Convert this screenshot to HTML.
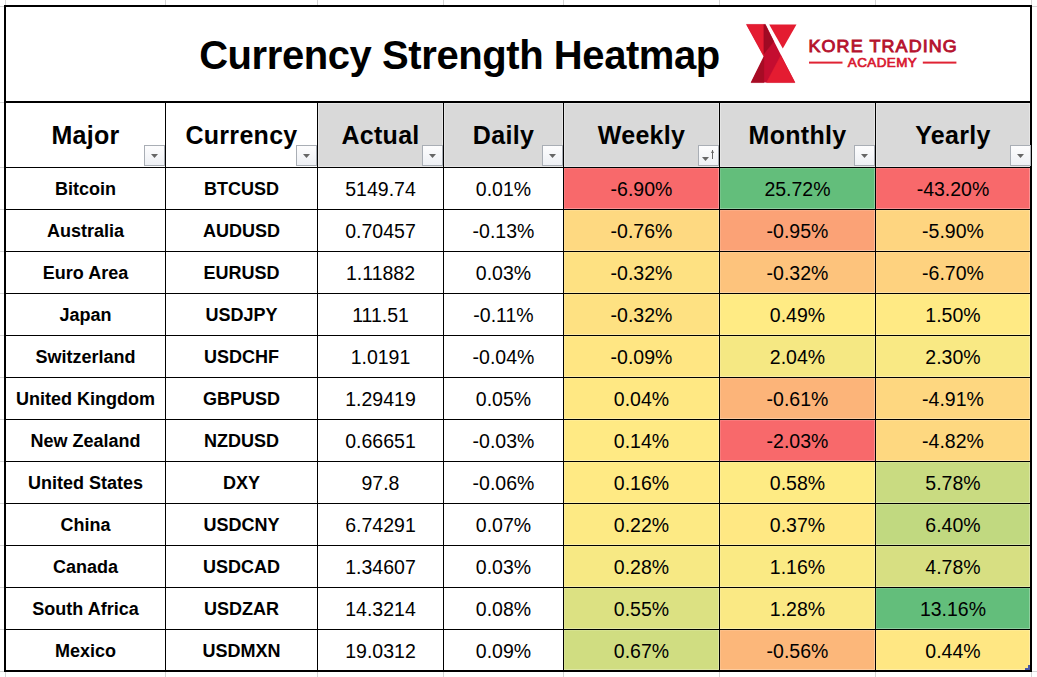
<!DOCTYPE html>
<html><head><meta charset="utf-8"><style>
*{margin:0;padding:0;box-sizing:border-box}
html,body{width:1037px;height:677px;overflow:hidden;background:#fff}
body{position:relative;font-family:"Liberation Sans", sans-serif;color:#000}
.a{position:absolute}
.g{position:absolute;background:#d4d4d4}
.k{position:absolute;background:#000}
.t{position:absolute;text-align:center;white-space:nowrap}
.b{font-weight:bold}
.dd{position:absolute;width:21px;height:21px;border:1px solid #a9aeb5;background:linear-gradient(#fdfdfe,#eef0f4)}
.dd i{position:absolute;left:6px;top:8px;width:7px;height:4px;background:#666;clip-path:polygon(0 0,100% 0,50% 100%)}
.dd.s i{left:3px;top:11px}
.dd b{position:absolute;left:13px;top:4px;width:1px;height:9px;background:#666}
.dd b:before{content:"";position:absolute;left:-1px;top:0;width:3px;height:3px;background:#666;clip-path:polygon(50% 0,100% 100%,0 100%)}
</style></head><body>

<div class="g" style="left:5px;top:0;width:1px;height:5px"></div>
<div class="g" style="left:5px;top:672px;width:1px;height:5px"></div>
<div class="g" style="left:165px;top:0;width:1px;height:5px"></div>
<div class="g" style="left:165px;top:672px;width:1px;height:5px"></div>
<div class="g" style="left:317px;top:0;width:1px;height:5px"></div>
<div class="g" style="left:317px;top:672px;width:1px;height:5px"></div>
<div class="g" style="left:443px;top:0;width:1px;height:5px"></div>
<div class="g" style="left:443px;top:672px;width:1px;height:5px"></div>
<div class="g" style="left:563px;top:0;width:1px;height:5px"></div>
<div class="g" style="left:563px;top:672px;width:1px;height:5px"></div>
<div class="g" style="left:719px;top:0;width:1px;height:5px"></div>
<div class="g" style="left:719px;top:672px;width:1px;height:5px"></div>
<div class="g" style="left:875px;top:0;width:1px;height:5px"></div>
<div class="g" style="left:875px;top:672px;width:1px;height:5px"></div>
<div class="g" style="left:1031px;top:0;width:1px;height:5px"></div>
<div class="g" style="left:1031px;top:672px;width:1px;height:5px"></div>
<div class="g" style="left:0;top:6px;width:4px;height:1px"></div>
<div class="g" style="left:1032px;top:6px;width:5px;height:1px"></div>
<div class="g" style="left:0;top:102px;width:4px;height:1px"></div>
<div class="g" style="left:0;top:167px;width:4px;height:1px"></div>
<div class="g" style="left:0;top:209px;width:4px;height:1px"></div>
<div class="g" style="left:0;top:251px;width:4px;height:1px"></div>
<div class="g" style="left:0;top:293px;width:4px;height:1px"></div>
<div class="g" style="left:0;top:335px;width:4px;height:1px"></div>
<div class="g" style="left:0;top:377px;width:4px;height:1px"></div>
<div class="g" style="left:0;top:419px;width:4px;height:1px"></div>
<div class="g" style="left:0;top:461px;width:4px;height:1px"></div>
<div class="g" style="left:0;top:503px;width:4px;height:1px"></div>
<div class="g" style="left:0;top:545px;width:4px;height:1px"></div>
<div class="g" style="left:0;top:587px;width:4px;height:1px"></div>
<div class="g" style="left:0;top:629px;width:4px;height:1px"></div>
<div class="g" style="left:0;top:671px;width:4px;height:1px"></div>
<div class="g" style="left:1032px;top:671px;width:5px;height:1px"></div>
<div class="a" style="left:318px;top:103px;width:125px;height:64px;background:#e5e5e5"></div>
<div class="a" style="left:319px;top:104px;width:123px;height:62px;background:#d9d9d9"></div>
<div class="a" style="left:444px;top:103px;width:119px;height:64px;background:#e5e5e5"></div>
<div class="a" style="left:445px;top:104px;width:117px;height:62px;background:#d9d9d9"></div>
<div class="a" style="left:564px;top:103px;width:155px;height:64px;background:#e5e5e5"></div>
<div class="a" style="left:565px;top:104px;width:153px;height:62px;background:#d9d9d9"></div>
<div class="a" style="left:720px;top:103px;width:155px;height:64px;background:#e5e5e5"></div>
<div class="a" style="left:721px;top:104px;width:153px;height:62px;background:#d9d9d9"></div>
<div class="a" style="left:876px;top:103px;width:154px;height:64px;background:#e5e5e5"></div>
<div class="a" style="left:877px;top:104px;width:152px;height:62px;background:#d9d9d9"></div>
<div class="a" style="left:564px;top:168px;width:155px;height:41px;background:#F8696B;box-shadow:inset -1px -1px 0 rgba(255,255,255,.28),inset 1px 1px 0 rgba(255,255,255,.12)"></div>
<div class="a" style="left:720px;top:168px;width:155px;height:41px;background:#63BE7B;box-shadow:inset -1px -1px 0 rgba(255,255,255,.28),inset 1px 1px 0 rgba(255,255,255,.12)"></div>
<div class="a" style="left:876px;top:168px;width:154px;height:41px;background:#F8696B;box-shadow:inset -1px -1px 0 rgba(255,255,255,.28),inset 1px 1px 0 rgba(255,255,255,.12)"></div>
<div class="a" style="left:564px;top:210px;width:155px;height:41px;background:#FED981;box-shadow:inset -1px -1px 0 rgba(255,255,255,.28),inset 1px 1px 0 rgba(255,255,255,.12)"></div>
<div class="a" style="left:720px;top:210px;width:155px;height:41px;background:#FBA276;box-shadow:inset -1px -1px 0 rgba(255,255,255,.28),inset 1px 1px 0 rgba(255,255,255,.12)"></div>
<div class="a" style="left:876px;top:210px;width:154px;height:41px;background:#FED580;box-shadow:inset -1px -1px 0 rgba(255,255,255,.28),inset 1px 1px 0 rgba(255,255,255,.12)"></div>
<div class="a" style="left:564px;top:252px;width:155px;height:41px;background:#FEE182;box-shadow:inset -1px -1px 0 rgba(255,255,255,.28),inset 1px 1px 0 rgba(255,255,255,.12)"></div>
<div class="a" style="left:720px;top:252px;width:155px;height:41px;background:#FDC37C;box-shadow:inset -1px -1px 0 rgba(255,255,255,.28),inset 1px 1px 0 rgba(255,255,255,.12)"></div>
<div class="a" style="left:876px;top:252px;width:154px;height:41px;background:#FED27F;box-shadow:inset -1px -1px 0 rgba(255,255,255,.28),inset 1px 1px 0 rgba(255,255,255,.12)"></div>
<div class="a" style="left:564px;top:294px;width:155px;height:41px;background:#FEE182;box-shadow:inset -1px -1px 0 rgba(255,255,255,.28),inset 1px 1px 0 rgba(255,255,255,.12)"></div>
<div class="a" style="left:720px;top:294px;width:155px;height:41px;background:#FFEB84;box-shadow:inset -1px -1px 0 rgba(255,255,255,.28),inset 1px 1px 0 rgba(255,255,255,.12)"></div>
<div class="a" style="left:876px;top:294px;width:154px;height:41px;background:#FFEA84;box-shadow:inset -1px -1px 0 rgba(255,255,255,.28),inset 1px 1px 0 rgba(255,255,255,.12)"></div>
<div class="a" style="left:564px;top:336px;width:155px;height:41px;background:#FFE683;box-shadow:inset -1px -1px 0 rgba(255,255,255,.28),inset 1px 1px 0 rgba(255,255,255,.12)"></div>
<div class="a" style="left:720px;top:336px;width:155px;height:41px;background:#F5E883;box-shadow:inset -1px -1px 0 rgba(255,255,255,.28),inset 1px 1px 0 rgba(255,255,255,.12)"></div>
<div class="a" style="left:876px;top:336px;width:154px;height:41px;background:#F9E984;box-shadow:inset -1px -1px 0 rgba(255,255,255,.28),inset 1px 1px 0 rgba(255,255,255,.12)"></div>
<div class="a" style="left:564px;top:378px;width:155px;height:41px;background:#FFE883;box-shadow:inset -1px -1px 0 rgba(255,255,255,.28),inset 1px 1px 0 rgba(255,255,255,.12)"></div>
<div class="a" style="left:720px;top:378px;width:155px;height:41px;background:#FCB479;box-shadow:inset -1px -1px 0 rgba(255,255,255,.28),inset 1px 1px 0 rgba(255,255,255,.12)"></div>
<div class="a" style="left:876px;top:378px;width:154px;height:41px;background:#FED780;box-shadow:inset -1px -1px 0 rgba(255,255,255,.28),inset 1px 1px 0 rgba(255,255,255,.12)"></div>
<div class="a" style="left:564px;top:420px;width:155px;height:41px;background:#FFEA84;box-shadow:inset -1px -1px 0 rgba(255,255,255,.28),inset 1px 1px 0 rgba(255,255,255,.12)"></div>
<div class="a" style="left:720px;top:420px;width:155px;height:41px;background:#F8696B;box-shadow:inset -1px -1px 0 rgba(255,255,255,.28),inset 1px 1px 0 rgba(255,255,255,.12)"></div>
<div class="a" style="left:876px;top:420px;width:154px;height:41px;background:#FED880;box-shadow:inset -1px -1px 0 rgba(255,255,255,.28),inset 1px 1px 0 rgba(255,255,255,.12)"></div>
<div class="a" style="left:564px;top:462px;width:155px;height:41px;background:#FFEA84;box-shadow:inset -1px -1px 0 rgba(255,255,255,.28),inset 1px 1px 0 rgba(255,255,255,.12)"></div>
<div class="a" style="left:720px;top:462px;width:155px;height:41px;background:#FEEB84;box-shadow:inset -1px -1px 0 rgba(255,255,255,.28),inset 1px 1px 0 rgba(255,255,255,.12)"></div>
<div class="a" style="left:876px;top:462px;width:154px;height:41px;background:#C9DB81;box-shadow:inset -1px -1px 0 rgba(255,255,255,.28),inset 1px 1px 0 rgba(255,255,255,.12)"></div>
<div class="a" style="left:564px;top:504px;width:155px;height:41px;background:#FDEA84;box-shadow:inset -1px -1px 0 rgba(255,255,255,.28),inset 1px 1px 0 rgba(255,255,255,.12)"></div>
<div class="a" style="left:720px;top:504px;width:155px;height:41px;background:#FFE883;box-shadow:inset -1px -1px 0 rgba(255,255,255,.28),inset 1px 1px 0 rgba(255,255,255,.12)"></div>
<div class="a" style="left:876px;top:504px;width:154px;height:41px;background:#C1D980;box-shadow:inset -1px -1px 0 rgba(255,255,255,.28),inset 1px 1px 0 rgba(255,255,255,.12)"></div>
<div class="a" style="left:564px;top:546px;width:155px;height:41px;background:#F7E984;box-shadow:inset -1px -1px 0 rgba(255,255,255,.28),inset 1px 1px 0 rgba(255,255,255,.12)"></div>
<div class="a" style="left:720px;top:546px;width:155px;height:41px;background:#FAEA84;box-shadow:inset -1px -1px 0 rgba(255,255,255,.28),inset 1px 1px 0 rgba(255,255,255,.12)"></div>
<div class="a" style="left:876px;top:546px;width:154px;height:41px;background:#D7DF82;box-shadow:inset -1px -1px 0 rgba(255,255,255,.28),inset 1px 1px 0 rgba(255,255,255,.12)"></div>
<div class="a" style="left:564px;top:588px;width:155px;height:41px;background:#DCE182;box-shadow:inset -1px -1px 0 rgba(255,255,255,.28),inset 1px 1px 0 rgba(255,255,255,.12)"></div>
<div class="a" style="left:720px;top:588px;width:155px;height:41px;background:#FAE984;box-shadow:inset -1px -1px 0 rgba(255,255,255,.28),inset 1px 1px 0 rgba(255,255,255,.12)"></div>
<div class="a" style="left:876px;top:588px;width:154px;height:41px;background:#63BE7B;box-shadow:inset -1px -1px 0 rgba(255,255,255,.28),inset 1px 1px 0 rgba(255,255,255,.12)"></div>
<div class="a" style="left:564px;top:630px;width:155px;height:40px;background:#D0DD81;box-shadow:inset -1px -1px 0 rgba(255,255,255,.28),inset 1px 1px 0 rgba(255,255,255,.12)"></div>
<div class="a" style="left:720px;top:630px;width:155px;height:40px;background:#FCB77A;box-shadow:inset -1px -1px 0 rgba(255,255,255,.28),inset 1px 1px 0 rgba(255,255,255,.12)"></div>
<div class="a" style="left:876px;top:630px;width:154px;height:40px;background:#FFE783;box-shadow:inset -1px -1px 0 rgba(255,255,255,.28),inset 1px 1px 0 rgba(255,255,255,.12)"></div>
<div class="k" style="left:4px;top:5px;width:1028px;height:2px"></div>
<div class="k" style="left:4px;top:101px;width:1028px;height:2px"></div>
<div class="k" style="left:4px;top:670px;width:1028px;height:2px"></div>
<div class="k" style="left:4px;top:5px;width:2px;height:667px"></div>
<div class="k" style="left:1030px;top:5px;width:2px;height:667px"></div>
<div class="k" style="left:165px;top:101px;width:1px;height:570px"></div>
<div class="k" style="left:317px;top:101px;width:1px;height:570px"></div>
<div class="k" style="left:443px;top:101px;width:1px;height:570px"></div>
<div class="k" style="left:563px;top:101px;width:1px;height:570px"></div>
<div class="k" style="left:719px;top:101px;width:1px;height:570px"></div>
<div class="k" style="left:875px;top:101px;width:1px;height:570px"></div>
<div class="k" style="left:4px;top:167px;width:1028px;height:1px"></div>
<div class="k" style="left:4px;top:209px;width:1028px;height:1px"></div>
<div class="k" style="left:4px;top:251px;width:1028px;height:1px"></div>
<div class="k" style="left:4px;top:293px;width:1028px;height:1px"></div>
<div class="k" style="left:4px;top:335px;width:1028px;height:1px"></div>
<div class="k" style="left:4px;top:377px;width:1028px;height:1px"></div>
<div class="k" style="left:4px;top:419px;width:1028px;height:1px"></div>
<div class="k" style="left:4px;top:461px;width:1028px;height:1px"></div>
<div class="k" style="left:4px;top:503px;width:1028px;height:1px"></div>
<div class="k" style="left:4px;top:545px;width:1028px;height:1px"></div>
<div class="k" style="left:4px;top:587px;width:1028px;height:1px"></div>
<div class="k" style="left:4px;top:629px;width:1028px;height:1px"></div>
<div class="t b" style="left:149.5px;top:25px;width:620px;height:60px;line-height:60px;font-size:40px;letter-spacing:-0.42px">Currency Strength Heatmap</div>
<svg class="a" style="left:740px;top:18px" width="225" height="72" viewBox="740 18 225 72">
<polygon points="746.4,24.4 765.4,24.4 795,82.6 751,82.6 763.9,56.5" fill="#C40D30"/>
<polygon points="746.4,24.4 763.9,24.4 763.9,56.5" fill="#E41C31" stroke="#E41C31" stroke-width="0.4"/>
<polygon points="763.9,56.5 751,82.6 763.9,82.6" fill="#A60C25" stroke="#A60C25" stroke-width="0.4"/>
<polygon points="763.9,24.4 765.4,24.4 773.7,41.5 763.9,53.8" fill="#A00A23" stroke="#A00A23" stroke-width="0.4"/>
<polygon points="780.8,55.5 795,82.6 766.5,82.6" fill="#E41C31" stroke="#E41C31" stroke-width="0.4"/>
<polygon points="769.2,24.4 796.5,24.4 782.8,48.6" fill="#E41C31"/>
<text transform="translate(808.5 52.4) scale(1.12 1)" x="0" y="0" font-family="Liberation Sans, sans-serif" font-weight="normal" font-size="16" fill="#B5122E" stroke="#B5122E" stroke-width="0.85" textLength="132.4" lengthAdjust="spacing">KORE TRADING</text>
<text transform="translate(847.8 67) scale(1.12 1)" x="0" y="0" font-family="Liberation Sans, sans-serif" font-weight="normal" font-size="12" fill="#D9182F" stroke="#D9182F" stroke-width="0.65" textLength="61.6" lengthAdjust="spacing">ACADEMY</text>
<rect x="809" y="61.6" width="33.5" height="2" fill="#E02334"/>
<rect x="922.8" y="61.6" width="33.6" height="2" fill="#E02334"/>
</svg>
<div class="t b" style="left:6px;top:103px;width:159px;height:64px;line-height:64px;font-size:25px;letter-spacing:0.3px">Major</div>
<div class="dd" style="left:144px;top:145px"><i></i></div>
<div class="t b" style="left:166px;top:103px;width:151px;height:64px;line-height:64px;font-size:25px;letter-spacing:0.3px">Currency</div>
<div class="dd" style="left:296px;top:145px"><i></i></div>
<div class="t b" style="left:318px;top:103px;width:125px;height:64px;line-height:64px;font-size:25px;letter-spacing:0.3px">Actual</div>
<div class="dd" style="left:422px;top:145px"><i></i></div>
<div class="t b" style="left:444px;top:103px;width:119px;height:64px;line-height:64px;font-size:25px;letter-spacing:0.3px">Daily</div>
<div class="dd" style="left:542px;top:145px"><i></i></div>
<div class="t b" style="left:564px;top:103px;width:155px;height:64px;line-height:64px;font-size:25px;letter-spacing:0.3px">Weekly</div>
<div class="dd s" style="left:698px;top:145px"><i></i><b></b></div>
<div class="t b" style="left:720px;top:103px;width:155px;height:64px;line-height:64px;font-size:25px;letter-spacing:0.3px">Monthly</div>
<div class="dd" style="left:854px;top:145px"><i></i></div>
<div class="t b" style="left:876px;top:103px;width:154px;height:64px;line-height:64px;font-size:25px;letter-spacing:0.3px">Yearly</div>
<div class="dd" style="left:1010px;top:145px"><i></i></div>
<div class="t b" style="left:6px;top:169px;width:159px;height:41px;line-height:41px;font-size:18px">Bitcoin</div>
<div class="t b" style="left:166px;top:169px;width:151px;height:41px;line-height:41px;font-size:18px">BTCUSD</div>
<div class="t" style="left:318px;top:169px;width:125px;height:41px;line-height:41px;font-size:19.5px">5149.74</div>
<div class="t" style="left:444px;top:169px;width:119px;height:41px;line-height:41px;font-size:19.5px">0.01%</div>
<div class="t" style="left:564px;top:169px;width:155px;height:41px;line-height:41px;font-size:19.5px">-6.90%</div>
<div class="t" style="left:720px;top:169px;width:155px;height:41px;line-height:41px;font-size:19.5px">25.72%</div>
<div class="t" style="left:876px;top:169px;width:154px;height:41px;line-height:41px;font-size:19.5px">-43.20%</div>
<div class="t b" style="left:6px;top:211px;width:159px;height:41px;line-height:41px;font-size:18px">Australia</div>
<div class="t b" style="left:166px;top:211px;width:151px;height:41px;line-height:41px;font-size:18px">AUDUSD</div>
<div class="t" style="left:318px;top:211px;width:125px;height:41px;line-height:41px;font-size:19.5px">0.70457</div>
<div class="t" style="left:444px;top:211px;width:119px;height:41px;line-height:41px;font-size:19.5px">-0.13%</div>
<div class="t" style="left:564px;top:211px;width:155px;height:41px;line-height:41px;font-size:19.5px">-0.76%</div>
<div class="t" style="left:720px;top:211px;width:155px;height:41px;line-height:41px;font-size:19.5px">-0.95%</div>
<div class="t" style="left:876px;top:211px;width:154px;height:41px;line-height:41px;font-size:19.5px">-5.90%</div>
<div class="t b" style="left:6px;top:253px;width:159px;height:41px;line-height:41px;font-size:18px">Euro Area</div>
<div class="t b" style="left:166px;top:253px;width:151px;height:41px;line-height:41px;font-size:18px">EURUSD</div>
<div class="t" style="left:318px;top:253px;width:125px;height:41px;line-height:41px;font-size:19.5px">1.11882</div>
<div class="t" style="left:444px;top:253px;width:119px;height:41px;line-height:41px;font-size:19.5px">0.03%</div>
<div class="t" style="left:564px;top:253px;width:155px;height:41px;line-height:41px;font-size:19.5px">-0.32%</div>
<div class="t" style="left:720px;top:253px;width:155px;height:41px;line-height:41px;font-size:19.5px">-0.32%</div>
<div class="t" style="left:876px;top:253px;width:154px;height:41px;line-height:41px;font-size:19.5px">-6.70%</div>
<div class="t b" style="left:6px;top:295px;width:159px;height:41px;line-height:41px;font-size:18px">Japan</div>
<div class="t b" style="left:166px;top:295px;width:151px;height:41px;line-height:41px;font-size:18px">USDJPY</div>
<div class="t" style="left:318px;top:295px;width:125px;height:41px;line-height:41px;font-size:19.5px">111.51</div>
<div class="t" style="left:444px;top:295px;width:119px;height:41px;line-height:41px;font-size:19.5px">-0.11%</div>
<div class="t" style="left:564px;top:295px;width:155px;height:41px;line-height:41px;font-size:19.5px">-0.32%</div>
<div class="t" style="left:720px;top:295px;width:155px;height:41px;line-height:41px;font-size:19.5px">0.49%</div>
<div class="t" style="left:876px;top:295px;width:154px;height:41px;line-height:41px;font-size:19.5px">1.50%</div>
<div class="t b" style="left:6px;top:337px;width:159px;height:41px;line-height:41px;font-size:18px">Switzerland</div>
<div class="t b" style="left:166px;top:337px;width:151px;height:41px;line-height:41px;font-size:18px">USDCHF</div>
<div class="t" style="left:318px;top:337px;width:125px;height:41px;line-height:41px;font-size:19.5px">1.0191</div>
<div class="t" style="left:444px;top:337px;width:119px;height:41px;line-height:41px;font-size:19.5px">-0.04%</div>
<div class="t" style="left:564px;top:337px;width:155px;height:41px;line-height:41px;font-size:19.5px">-0.09%</div>
<div class="t" style="left:720px;top:337px;width:155px;height:41px;line-height:41px;font-size:19.5px">2.04%</div>
<div class="t" style="left:876px;top:337px;width:154px;height:41px;line-height:41px;font-size:19.5px">2.30%</div>
<div class="t b" style="left:6px;top:379px;width:159px;height:41px;line-height:41px;font-size:18px">United Kingdom</div>
<div class="t b" style="left:166px;top:379px;width:151px;height:41px;line-height:41px;font-size:18px">GBPUSD</div>
<div class="t" style="left:318px;top:379px;width:125px;height:41px;line-height:41px;font-size:19.5px">1.29419</div>
<div class="t" style="left:444px;top:379px;width:119px;height:41px;line-height:41px;font-size:19.5px">0.05%</div>
<div class="t" style="left:564px;top:379px;width:155px;height:41px;line-height:41px;font-size:19.5px">0.04%</div>
<div class="t" style="left:720px;top:379px;width:155px;height:41px;line-height:41px;font-size:19.5px">-0.61%</div>
<div class="t" style="left:876px;top:379px;width:154px;height:41px;line-height:41px;font-size:19.5px">-4.91%</div>
<div class="t b" style="left:6px;top:421px;width:159px;height:41px;line-height:41px;font-size:18px">New Zealand</div>
<div class="t b" style="left:166px;top:421px;width:151px;height:41px;line-height:41px;font-size:18px">NZDUSD</div>
<div class="t" style="left:318px;top:421px;width:125px;height:41px;line-height:41px;font-size:19.5px">0.66651</div>
<div class="t" style="left:444px;top:421px;width:119px;height:41px;line-height:41px;font-size:19.5px">-0.03%</div>
<div class="t" style="left:564px;top:421px;width:155px;height:41px;line-height:41px;font-size:19.5px">0.14%</div>
<div class="t" style="left:720px;top:421px;width:155px;height:41px;line-height:41px;font-size:19.5px">-2.03%</div>
<div class="t" style="left:876px;top:421px;width:154px;height:41px;line-height:41px;font-size:19.5px">-4.82%</div>
<div class="t b" style="left:6px;top:463px;width:159px;height:41px;line-height:41px;font-size:18px">United States</div>
<div class="t b" style="left:166px;top:463px;width:151px;height:41px;line-height:41px;font-size:18px">DXY</div>
<div class="t" style="left:318px;top:463px;width:125px;height:41px;line-height:41px;font-size:19.5px">97.8</div>
<div class="t" style="left:444px;top:463px;width:119px;height:41px;line-height:41px;font-size:19.5px">-0.06%</div>
<div class="t" style="left:564px;top:463px;width:155px;height:41px;line-height:41px;font-size:19.5px">0.16%</div>
<div class="t" style="left:720px;top:463px;width:155px;height:41px;line-height:41px;font-size:19.5px">0.58%</div>
<div class="t" style="left:876px;top:463px;width:154px;height:41px;line-height:41px;font-size:19.5px">5.78%</div>
<div class="t b" style="left:6px;top:505px;width:159px;height:41px;line-height:41px;font-size:18px">China</div>
<div class="t b" style="left:166px;top:505px;width:151px;height:41px;line-height:41px;font-size:18px">USDCNY</div>
<div class="t" style="left:318px;top:505px;width:125px;height:41px;line-height:41px;font-size:19.5px">6.74291</div>
<div class="t" style="left:444px;top:505px;width:119px;height:41px;line-height:41px;font-size:19.5px">0.07%</div>
<div class="t" style="left:564px;top:505px;width:155px;height:41px;line-height:41px;font-size:19.5px">0.22%</div>
<div class="t" style="left:720px;top:505px;width:155px;height:41px;line-height:41px;font-size:19.5px">0.37%</div>
<div class="t" style="left:876px;top:505px;width:154px;height:41px;line-height:41px;font-size:19.5px">6.40%</div>
<div class="t b" style="left:6px;top:547px;width:159px;height:41px;line-height:41px;font-size:18px">Canada</div>
<div class="t b" style="left:166px;top:547px;width:151px;height:41px;line-height:41px;font-size:18px">USDCAD</div>
<div class="t" style="left:318px;top:547px;width:125px;height:41px;line-height:41px;font-size:19.5px">1.34607</div>
<div class="t" style="left:444px;top:547px;width:119px;height:41px;line-height:41px;font-size:19.5px">0.03%</div>
<div class="t" style="left:564px;top:547px;width:155px;height:41px;line-height:41px;font-size:19.5px">0.28%</div>
<div class="t" style="left:720px;top:547px;width:155px;height:41px;line-height:41px;font-size:19.5px">1.16%</div>
<div class="t" style="left:876px;top:547px;width:154px;height:41px;line-height:41px;font-size:19.5px">4.78%</div>
<div class="t b" style="left:6px;top:589px;width:159px;height:41px;line-height:41px;font-size:18px">South Africa</div>
<div class="t b" style="left:166px;top:589px;width:151px;height:41px;line-height:41px;font-size:18px">USDZAR</div>
<div class="t" style="left:318px;top:589px;width:125px;height:41px;line-height:41px;font-size:19.5px">14.3214</div>
<div class="t" style="left:444px;top:589px;width:119px;height:41px;line-height:41px;font-size:19.5px">0.08%</div>
<div class="t" style="left:564px;top:589px;width:155px;height:41px;line-height:41px;font-size:19.5px">0.55%</div>
<div class="t" style="left:720px;top:589px;width:155px;height:41px;line-height:41px;font-size:19.5px">1.28%</div>
<div class="t" style="left:876px;top:589px;width:154px;height:41px;line-height:41px;font-size:19.5px">13.16%</div>
<div class="t b" style="left:6px;top:631px;width:159px;height:41px;line-height:41px;font-size:18px">Mexico</div>
<div class="t b" style="left:166px;top:631px;width:151px;height:41px;line-height:41px;font-size:18px">USDMXN</div>
<div class="t" style="left:318px;top:631px;width:125px;height:41px;line-height:41px;font-size:19.5px">19.0312</div>
<div class="t" style="left:444px;top:631px;width:119px;height:41px;line-height:41px;font-size:19.5px">0.09%</div>
<div class="t" style="left:564px;top:631px;width:155px;height:41px;line-height:41px;font-size:19.5px">0.67%</div>
<div class="t" style="left:720px;top:631px;width:155px;height:41px;line-height:41px;font-size:19.5px">-0.56%</div>
<div class="t" style="left:876px;top:631px;width:154px;height:41px;line-height:41px;font-size:19.5px">0.44%</div>
<div class="a" style="left:1025px;top:665px;width:5px;height:5px;background:#4656a8;clip-path:polygon(60% 0,100% 0,100% 100%,0 100%,0 60%,60% 60%)"></div>
</body></html>
